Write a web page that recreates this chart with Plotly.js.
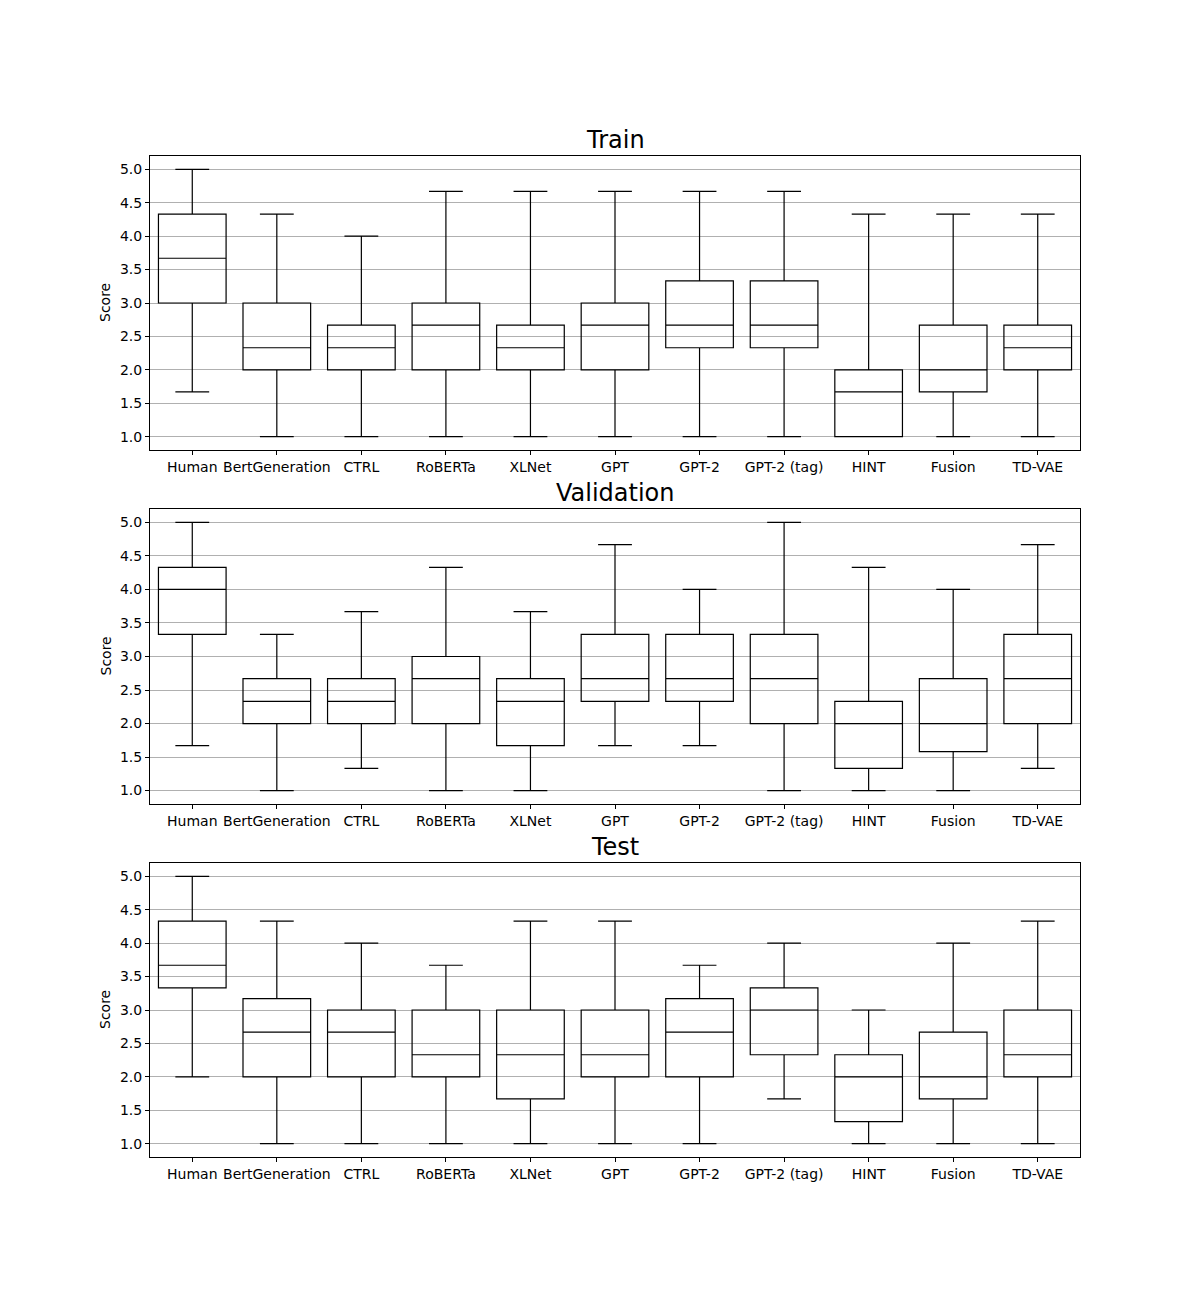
<!DOCTYPE html>
<html>
<head>
<meta charset="utf-8">
<script src="https://cdn.plot.ly/plotly-3.0.1.min.js"></script>
<style>html,body{margin:0;padding:0;background:#fff;}</style>
</head>
<body>
<div id="chart" style="width:1200px;height:1300px;"></div>
<script>
const categories = ["Human","BertGeneration","CTRL","RoBERTa","XLNet","GPT","GPT-2","GPT-2 (tag)","HINT","Fusion","TD-VAE"];
const panelTitles = ["Train","Validation","Test"];
const yTicks = [1.0,1.5,2.0,2.5,3.0,3.5,4.0,4.5,5.0];

// Train
const trainLower  = [1.67,1.0,1.0,1.0,1.0,1.0,1.0,1.0,1.0,1.0,1.0];
const trainQ1     = [3.0,2.0,2.0,2.0,2.0,2.0,2.33,2.33,1.0,1.67,2.0];
const trainMedian = [3.67,2.33,2.33,2.67,2.33,2.67,2.67,2.67,1.67,2.0,2.33];
const trainQ3     = [4.33,3.0,2.67,3.0,2.67,3.0,3.33,3.33,2.0,2.67,2.67];
const trainUpper  = [5.0,4.33,4.0,4.67,4.67,4.67,4.67,4.67,4.33,4.33,4.33];

// Validation
const valLower  = [1.67,1.0,1.33,1.0,1.0,1.67,1.67,1.0,1.0,1.0,1.33];
const valQ1     = [3.33,2.0,2.0,2.0,1.67,2.33,2.33,2.0,1.33,1.58,2.0];
const valMedian = [4.0,2.33,2.33,2.67,2.33,2.67,2.67,2.67,2.0,2.0,2.67];
const valQ3     = [4.33,2.67,2.67,3.0,2.67,3.33,3.33,3.33,2.33,2.67,3.33];
const valUpper  = [5.0,3.33,3.67,4.33,3.67,4.67,4.0,5.0,4.33,4.0,4.67];

// Test
const testLower  = [2.0,1.0,1.0,1.0,1.0,1.0,1.0,1.67,1.0,1.0,1.0];
const testQ1     = [3.33,2.0,2.0,2.0,1.67,2.0,2.0,2.33,1.33,1.67,2.0];
const testMedian = [3.67,2.67,2.67,2.33,2.33,2.33,2.67,3.0,2.0,2.0,2.33];
const testQ3     = [4.33,3.17,3.0,3.0,3.0,3.0,3.17,3.33,2.33,2.67,3.0];
const testUpper  = [5.0,4.33,4.0,3.67,4.33,4.33,3.67,4.0,3.0,4.0,4.33];

const panels = [
  {lower: trainLower, q1: trainQ1, med: trainMedian, q3: trainQ3, upper: trainUpper},
  {lower: valLower, q1: valQ1, med: valMedian, q3: valQ3, upper: valUpper},
  {lower: testLower, q1: testQ1, med: testMedian, q3: testQ3, upper: testUpper}
];

const W = 1200, H = 1300;
const xDomain = [150/W, 1080/W];
const pix = [[156,450],[509,804],[863,1157]];
const yDomains = pix.map(p => [1 - p[1]/H, 1 - p[0]/H]);
const font = "DejaVu Sans, sans-serif";

const data = [];
const layout = {
  width: W, height: H,
  margin: {l:0, r:0, t:0, b:0},
  paper_bgcolor: "#fff", plot_bgcolor: "#fff",
  showlegend: false,
  boxgap: 0.2,
  boxgroupgap: 0,
  font: {family: font, size: 14, color: "#000"},
  annotations: []
};

panels.forEach((p, i) => {
  const n = i === 0 ? "" : String(i+1);
  data.push({
    type: "box",
    x: categories,
    q1: p.q1, median: p.med, q3: p.q3,
    lowerfence: p.lower, upperfence: p.upper,
    xaxis: "x" + n, yaxis: "y" + n,
    width: 0.8,
    line: {color: "#000", width: 1.2},
    fillcolor: "rgba(0,0,0,0)",
    whiskerwidth: 0.5,
    boxpoints: false,
    hoverinfo: "skip"
  });
  layout["xaxis" + n] = {
    domain: xDomain,
    anchor: "y" + n,
    type: "category",
    range: [-0.5, 10.5],
    showgrid: false,
    zeroline: false,
    showline: true, mirror: true, linecolor: "#000", linewidth: 1,
    ticks: "outside", ticklen: 4, tickcolor: "#000", tickwidth: 1,
    tickfont: {family: font, size: 14, color: "#000"},
    automargin: false
  };
  layout["yaxis" + n] = {
    domain: yDomains[i],
    anchor: "x" + n,
    range: [0.8, 5.2],
    tickvals: yTicks,
    ticktext: yTicks.map(v => v.toFixed(1)),
    showgrid: true, gridcolor: "#b0b0b0", gridwidth: 1,
    zeroline: false,
    showline: true, mirror: true, linecolor: "#000", linewidth: 1,
    ticks: "outside", ticklen: 4, tickcolor: "#000", tickwidth: 1,
    tickfont: {family: font, size: 14, color: "#000"},
    automargin: false
  };
  layout.annotations.push({
    text: panelTitles[i], xref: "paper", yref: "paper",
    x: (xDomain[0] + xDomain[1]) / 2, y: yDomains[i][1],
    xanchor: "center", yanchor: "bottom", yshift: 0,
    showarrow: false, font: {family: font, size: 24, color: "#000"}
  });
  layout.annotations.push({
    text: "Score", xref: "paper", yref: "paper",
    x: 105/W, y: (yDomains[i][0] + yDomains[i][1]) / 2,
    xanchor: "center", yanchor: "middle", textangle: -90,
    showarrow: false, font: {family: font, size: 14, color: "#000"}
  });
});

Plotly.newPlot("chart", data, layout, {displayModeBar: false, staticPlot: true});
</script>
</body>
</html>
